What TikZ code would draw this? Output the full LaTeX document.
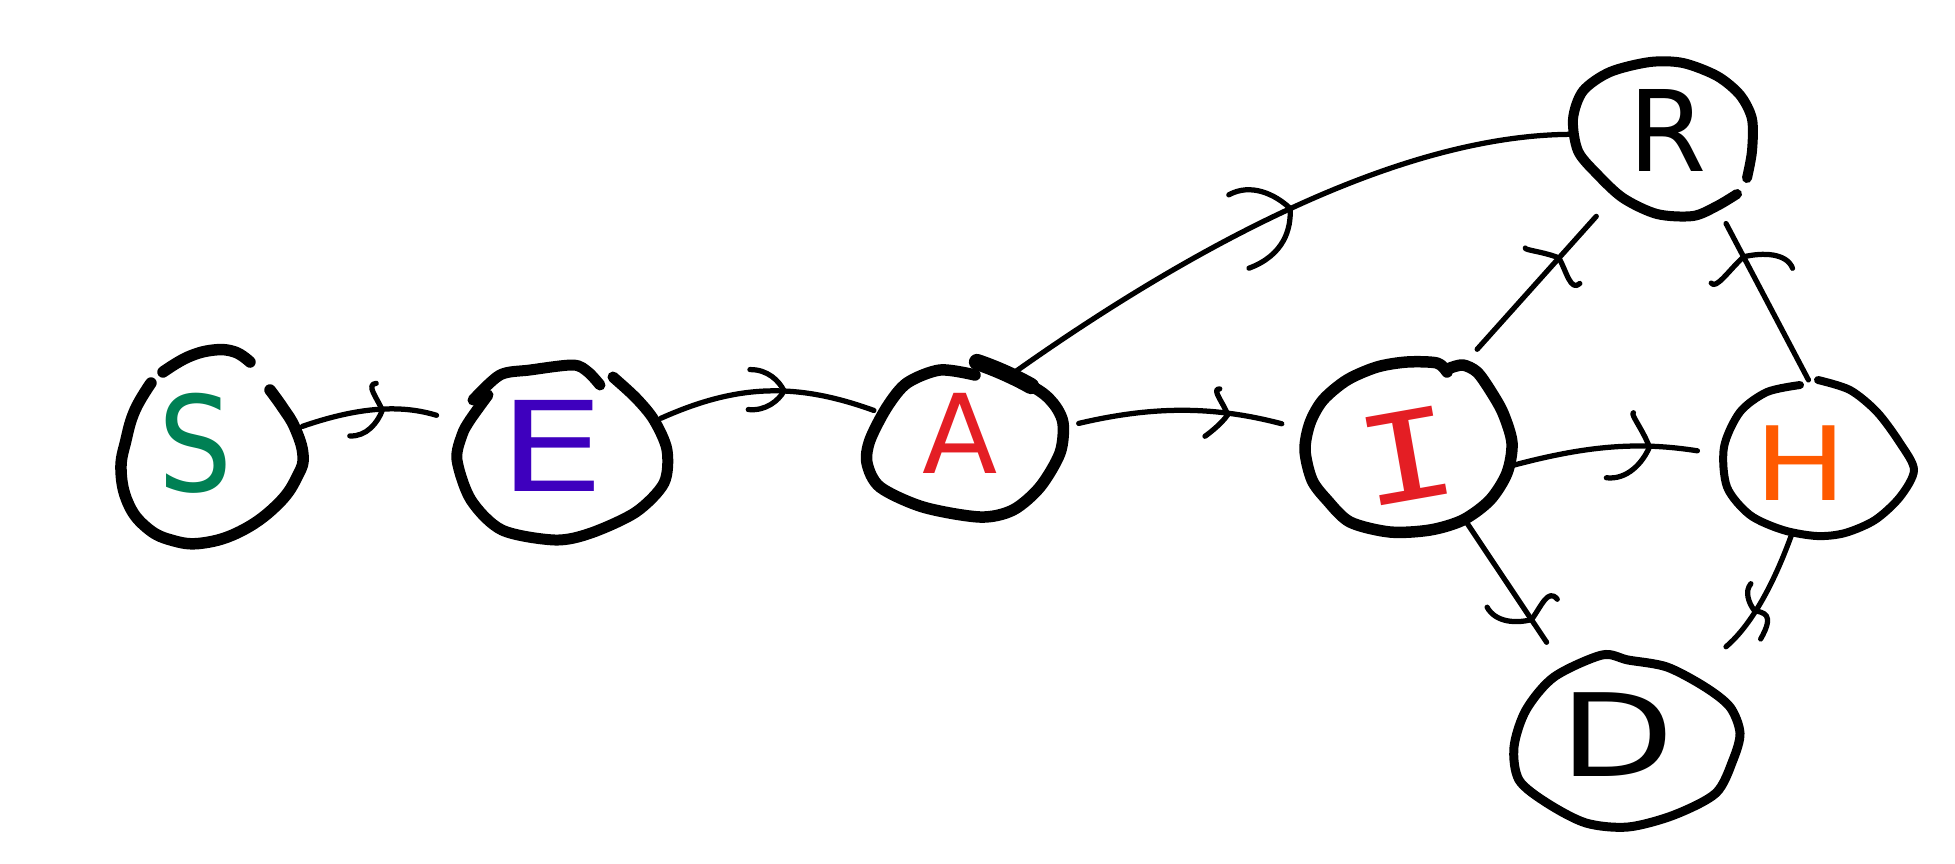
\documentclass[tikz,border=0pt]{standalone}
\usepackage{fontspec}
\setmainfont{DejaVu Sans}
\newfontfamily\monofont{DejaVu Sans Mono}
\usetikzlibrary{shapes.geometric,decorations.markings}
\definecolor{sgreen}{RGB}{0,128,84}
\definecolor{epurple}{RGB}{62,0,190}
\definecolor{ared}{RGB}{228,30,36}
\definecolor{horange}{RGB}{255,90,0}
\tikzset{
  comp/.style 2 args={ellipse, draw=none, minimum width=#1*0.4pt, minimum height=#2*0.4pt, inner sep=0pt, outer sep=0pt},
  outline/.style={line width=4pt, line cap=round, line join=round},
  conn/.style={line width=2.1pt, line cap=round, line join=round},
  lbl/.style={inner sep=0pt, outer sep=0pt},
  chev/.style n args={3}{postaction={decorate, decoration={markings, mark=at position #1 with {\draw[conn] (-#2,#3) .. controls (-0.5*#2,1.05*#3) and (-0.15*#2,0.5*#3) .. (0,0) .. controls (-0.15*#2,-0.5*#3) and (-0.5*#2,-1.05*#3) .. (-#2,-#3);}}}},
}
\begin{document}
\begin{tikzpicture}[x=0.4pt,y=-0.4pt]
\fill[white] (0,0) rectangle (1955,863);
\path[use as bounding box] (0,0) rectangle (1955,863);

% invisible compartment nodes
\node[comp={183}{191}] (S) at (213,447) {};
\node[comp={212}{175}] (E) at (563,452) {};
\node[comp={192}{160}] (A) at (964,438) {};
\node[comp={204}{170}] (I) at (1410,447) {};
\node[comp={192}{157}] (H) at (1818,458) {};
\node[comp={179}{154}] (R) at (1662,139) {};
\node[comp={226}{172}] (D) at (1627,741) {};

% hand-drawn outlines
\draw[outline, line width=4.6pt] plot[smooth, tension=0.7] coordinates {(151,383) (135,410) (126,440) (121,470) (128,503) (146,527) (171,540) (203,543) (243,530) (279,503) (298,475) (303,455) (295,428) (283,408) (270,390)};
\draw[outline, line width=4.6pt] plot[smooth, tension=0.7] coordinates {(163,372) (188,357) (214,350) (235,352) (250,362)};

\draw[outline, line width=4.4pt] plot[smooth] coordinates {(473,400) (500,375) (530,370) (573,365) (588,372) (600,385)};
\draw[outline, line width=4.4pt] plot[smooth] coordinates {(613,377) (636,398) (654,420) (667,450) (664,483) (636,512) (591,533) (555,540) (502,530) (471,500) (457,460) (462,435) (470,420) (488,395)};

\draw[outline, line width=4.6pt] plot[smooth] coordinates {(975,375) (940,370) (907,383) (887,407) (870,440) (867,463) (880,487) (923,507) (980,517) (1013,510) (1040,487) (1060,453) (1063,423) (1053,403) (1033,387) (977,363)};
\draw[line width=6.5pt, line cap=round] (977,362) .. controls (995,368) and (1015,377) .. (1031,386);

\draw[outline, line width=4.6pt] plot[smooth] coordinates {(1447,372) (1437,363) (1407,362) (1377,367) (1347,380) (1323,400) (1310,423) (1305,450) (1312,480) (1327,500) (1350,522) (1390,532) (1430,530) (1463,520) (1490,500) (1507,473) (1512,443) (1503,413) (1490,390) (1477,372) (1463,365) (1450,368)};

\draw[outline, line width=3.2pt] plot[smooth] coordinates {(1818,380) (1850,390) (1877,412) (1900,443) (1914,470) (1900,497) (1875,520) (1845,533) (1817,536) (1783,530) (1750,515) (1727,487) (1724,447) (1740,412) (1767,392) (1800,385)};

\draw[outline] plot[smooth] coordinates {(1747,178) (1752,151) (1752,119) (1740,95) (1717,76) (1683,63) (1650,62) (1610,72) (1583,91) (1573,119) (1578,151) (1597,174) (1623,198) (1657,214) (1693,216) (1717,206) (1737,194)};

\draw[outline, line width=3.6pt] plot[smooth cycle] coordinates {(1602,655) (1554,677) (1526,710) (1514,747) (1519,780) (1547,803) (1586,823) (1628,827) (1674,815) (1716,793) (1733,760) (1740,733) (1730,707) (1705,687) (1667,667) (1628,660)};

% letters
\node[lbl, text=sgreen] (St) at (196,443) {\fontsize{53}{53}\selectfont\scalebox{0.88}[1]{S}};
\node[lbl, text=epurple] (Et) at (552,446) {\fontsize{50}{50}\selectfont\scalebox{1.35}[1]{E}};
\node[lbl, text=ared] (At) at (960,433) {\fontsize{44}{44}\selectfont A};
\node[lbl, text=ared, rotate=10] (It) at (1407,456) {\monofont\fontsize{49}{49}\selectfont\scalebox{1.35}[1]{I}};
\node[lbl, text=horange] (Ht) at (1801,463) {\fontsize{41}{41}\selectfont\scalebox{1.2}[1]{H}};
\node[lbl] (Rt) at (1668,130) {\fontsize{45}{45}\selectfont R};
\node[lbl] (Dt) at (1617,735) {\fontsize{46}{46}\selectfont\scalebox{1.3}[1]{D}};

% connectors
\draw[conn, shorten >=11pt, chev={0.5}{33}{25}] (S.13) to[bend left=18] (E.164);
\draw[conn, chev={0.58}{35}{20}] (E.19) to[bend left=22] (A.163);
\draw[conn, shorten <=8pt, shorten >=11.6pt, chev={0.67}{40}{23}] (A.6) to[bend left=14] (I.171);
\draw[conn, shorten >=10pt, chev={0.66}{42}{32}] (I.-11) to[bend left=12] (H.178);
\draw[conn, shorten <=-5pt, chev={0.52}{50}{38}] (A.52) .. controls +(140,-100) and +(-190,0) .. (R.177);
\draw[conn, shorten <=12pt, shorten >=8pt, chev={0.67}{35}{30}] (I.58) -- (R.230);
\draw[conn, shorten >=10pt, chev={0.69}{33}{38}] (H.97) -- (R.310);
\draw[conn, shorten >=13pt, chev={0.67}{35}{30}] (I.-53) -- (D.131);
\draw[conn, shorten >=16pt, chev={0.5}{20}{18}] (H.251) to[bend left=15] (D.45);
\end{tikzpicture}
\end{document}
